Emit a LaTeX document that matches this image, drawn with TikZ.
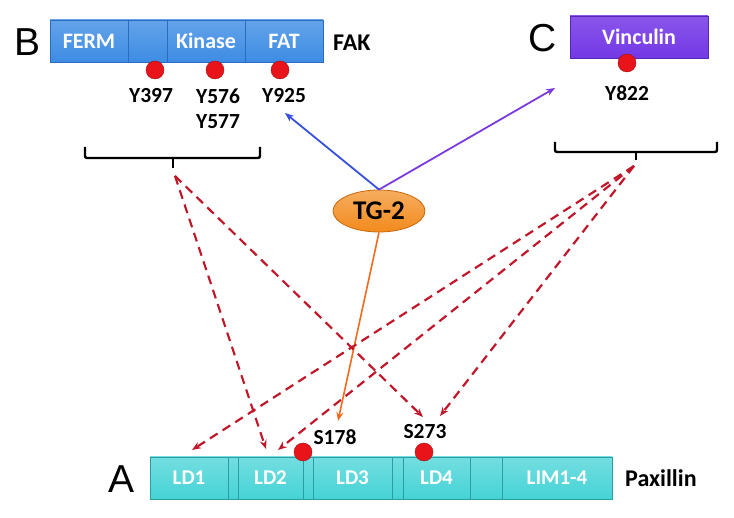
\documentclass[tikz,border=0pt]{standalone}
\usepackage{fontspec}
\setsansfont{Carlito}
\newfontfamily\arialfont{Liberation Sans}
\usetikzlibrary{arrows.meta, shapes.geometric}
\definecolor{fakblue}{HTML}{3D8CE4}
\definecolor{fakedge}{HTML}{2A6CC0}
\definecolor{vinpurple}{HTML}{7438E6}
\definecolor{vinedge}{HTML}{5526B8}
\definecolor{paxcyan}{HTML}{45D3D6}
\definecolor{paxedge}{HTML}{2A9DA6}
\definecolor{tgorange}{HTML}{F28A1C}
\definecolor{tgedge}{HTML}{C8680E}
\definecolor{dotred}{HTML}{E8141A}
\definecolor{dashred}{HTML}{C0182A}
\definecolor{arrblue}{HTML}{3650DD}
\definecolor{arrpurple}{HTML}{7A3AE0}
\definecolor{arrorange}{HTML}{F26A1C}
\begin{document}
\begin{tikzpicture}[
    x=1pt, y=-1pt,
    seg/.style={draw, line width=0.8pt, minimum height=42pt, inner sep=0pt, text=white,
                font=\sffamily\bfseries\fontsize{22}{24}\selectfont},
    fakseg/.style={seg, draw=fakedge, top color=fakblue!80!white, bottom color=fakblue},
    vinseg/.style={seg, draw=vinedge, top color=vinpurple!85!white, bottom color=vinpurple},
    paxseg/.style={seg, draw=paxedge, top color=paxcyan!75!white, bottom color=paxcyan,
                   font=\sffamily\bfseries\fontsize{21}{23}\selectfont},
    site/.style={circle, fill=dotred, draw=dotred!70!black, line width=0.4pt, minimum size=18pt, inner sep=0pt},
    lbl/.style={font=\sffamily\bfseries\fontsize{21.5}{24}\selectfont, align=center, inner sep=0pt},
    protlbl/.style={lbl, font=\sffamily\bfseries\fontsize{24}{26}\selectfont, anchor=west},
    letter/.style={font=\arialfont\fontsize{39}{40}\selectfont, inner sep=0pt},
    enzyme/.style={ellipse, draw=tgedge, line width=0.8pt, top color=tgorange!70!white, bottom color=tgorange,
                   minimum width=92pt, minimum height=42pt, inner sep=0pt,
                   font=\sffamily\bfseries\fontsize{27}{29}\selectfont},
    brace/.style={draw, line width=2.4pt, rounded corners=2pt},
    arr/.style={-{Stealth[length=9pt, width=7pt]}, line width=1.8pt},
    darr/.style={arr, draw=dashred, dash pattern=on 9pt off 6pt, line width=2.2pt},
]
    \useasboundingbox (0,0) rectangle (734,518);

    % B: FAK
    \node[letter] (B) at (28,42) {B};
    \node[fakseg, minimum width=78pt] (ferm)   at (89,41)  {FERM};
    \node[fakseg, minimum width=39pt] (fakgap) at (147.5,41) {};
    \node[fakseg, minimum width=78pt] (kinase) at (206,41) {Kinase};
    \node[fakseg, minimum width=78pt] (fat)    at (284,41) {FAT};
    \node[protlbl] (fak) at (333,43) {FAK};
    \node[site] (y397) at (155,70) {};
    \node[site] (y576) at (215,70) {};
    \node[site] (y925) at (280,70) {};
    \node[lbl] (l397) at (151,96) {Y397};
    \node[lbl] (l576) at (218,109) {Y576\\[1pt]Y577};
    \node[lbl] (l925) at (284,96) {Y925};

    % C: Vinculin
    \node[letter] (C) at (543,38) {C};
    \node[vinseg, minimum width=138pt] (vinculin) at (639,37) {Vinculin};
    \node[site] (y822) at (627,63) {};
    \node[lbl] (l822) at (627,93) {Y822};

    % A: Paxillin
    \node[letter] (A) at (122,479) {A};
    \node[paxseg, minimum width=78pt] (ld1)  at (189,478)   {LD1};
    \node[paxseg, minimum width=10pt] (g1)   at (233,478)   {};
    \node[paxseg, minimum width=65pt] (ld2)  at (270.5,478) {LD2};
    \node[paxseg, minimum width=10pt] (g2)   at (308,478)   {};
    \node[paxseg, minimum width=79pt] (ld3)  at (352.5,478) {LD3};
    \node[paxseg, minimum width=11pt] (g3)   at (397.5,478) {};
    \node[paxseg, minimum width=67pt] (ld4)  at (436.5,478) {LD4};
    \node[paxseg, minimum width=32pt] (g4)   at (486,478)   {};
    \node[paxseg, minimum width=110pt] (lim) at (557,478)   {LIM1-4};
    \node[protlbl] (paxillin) at (625,478) {Paxillin};
    \node[site] (s178) at (303,452) {};
    \node[site] (s273) at (424,452) {};
    \node[lbl] (l178) at (335,437) {S178};
    \node[lbl] (l273) at (425,432) {S273};

    % Braces
    \draw[brace] (85,147) -- (85,158) -- (260,158) -- (260,147);
    \draw[brace] (173,158) -- (173,168);
    \coordinate (fakbr) at (175,176);
    \draw[brace] (555,142) -- (555,152) -- (717,152) -- (717,142);
    \draw[brace] (636,152) -- (636,160);
    \coordinate (vinbr) at (634,166);

    % TG-2
    \node[enzyme] (tg) at (379,211) {TG-2};

    % Arrow ends
    \coordinate (toFAK) at (285,113);
    \coordinate (toVIN) at (555,88);
    \coordinate (toS178) at (338,421);
    \coordinate (toLD1) at (192,450);
    \coordinate (fakLD2) at (266,449);
    \coordinate (vinLD2) at (278,450);
    \coordinate (fakS273) at (423,417);
    \coordinate (vinS273) at (440,416);

    % Arrows
    \draw[arr, draw=arrblue] (tg.north) -- (toFAK);
    \draw[arr, draw=arrpurple] (tg.north) -- (toVIN);
    \draw[arr, draw=arrorange, line width=1.6pt] (tg.south) -- (toS178);
    \draw[darr] (fakbr) -- (fakLD2);
    \draw[darr] (fakbr) -- (fakS273);
    \draw[darr] (vinbr) -- (toLD1);
    \draw[darr] (vinbr) -- (vinLD2);
    \draw[darr] (vinbr) -- (vinS273);
\end{tikzpicture}
\end{document}
